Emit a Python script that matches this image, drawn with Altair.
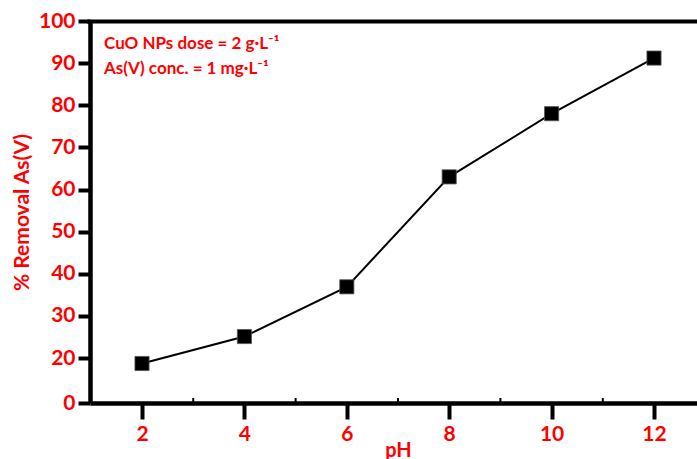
import altair as alt
import pandas as pd

ph = [2, 4, 6, 8, 10, 12]
removal = [18.7, 25.1, 36.9, 63.0, 78.0, 91.2]
minor_ph = [3, 5, 7, 9, 11]
y_ticks = [9.32, 20, 30, 40, 50, 60, 70, 80, 90, 100]
x_ticks = [2, 4, 6, 8, 10, 12]
notes = ["CuO NPs dose = 2 g\u2219L\u207b\u00b9", "As(V) conc. = 1 mg\u2219L\u207b\u00b9"]

df = pd.DataFrame({"pH": ph, "removal": removal})
minor_df = pd.DataFrame({"pH": minor_ph})

RED = "#FF0000"
FONT = "Lato"

xscale = alt.Scale(domain=[0.984, 12.84], nice=False, zero=False)
yscale = alt.Scale(domain=[9.32, 100], nice=False, zero=False)

xaxis = alt.Axis(
    values=x_ticks, title="pH", grid=False,
    domainColor="black", domainWidth=4.5,
    tickColor="black", tickWidth=4, tickSize=16,
    labelColor=RED, labelFont=FONT, labelFontSize=21, labelFontWeight="bold",
    labelPadding=4, labelFlush=False,
    titleColor=RED, titleFont=FONT, titleFontSize=20, titleFontWeight="bold",
    titleX=308, titleY=37, titleBaseline="top", titleAlign="center",
)
yaxis = alt.Axis(
    values=y_ticks, title="% Removal As(V)", grid=False,
    labelExpr="datum.value < 15 ? '0' : datum.label", format="d",
    domainColor="black", domainWidth=4.5,
    tickColor="black", tickWidth=4, tickSize=12,
    labelColor=RED, labelFont=FONT, labelFontSize=21, labelFontWeight="bold",
    labelPadding=3, labelFlush=False,
    titleColor=RED, titleFont=FONT, titleFontSize=21, titleFontWeight="bold",
    titleX=-68, titleY=191, titleAngle=270, titleAlign="center", titleBaseline="middle",
)

base = alt.Chart(df)
line = base.mark_line(color="black", strokeWidth=2).encode(
    x=alt.X("pH:Q", scale=xscale, axis=xaxis),
    y=alt.Y("removal:Q", scale=yscale, axis=yaxis),
)
points = base.mark_point(shape="square", filled=True, size=200, color="black",
                         stroke="#555555", strokeWidth=0.8, opacity=1).encode(
    x=alt.X("pH:Q", scale=xscale),
    y=alt.Y("removal:Q", scale=yscale),
)
minor = alt.Chart(minor_df).mark_rule(color="black", strokeWidth=2).encode(
    x=alt.X("pH:Q", scale=xscale),
    y=alt.value(377), y2=alt.value(382),
)
top = alt.Chart(pd.DataFrame({"a": [0]})).mark_rule(color="black", strokeWidth=4).encode(
    x=alt.value(-3), x2=alt.value(607), y=alt.value(0.5),
)
note_df = pd.DataFrame({"t": notes, "i": [0, 1]})
note1 = alt.Chart(note_df.iloc[[0]]).mark_text(
    align="left", baseline="alphabetic", font=FONT, fontSize=17, fontWeight="bold", color=RED
).encode(x=alt.value(14), y=alt.value(28), text="t:N")
note2 = alt.Chart(note_df.iloc[[1]]).mark_text(
    align="left", baseline="alphabetic", font=FONT, fontSize=17, fontWeight="bold", color=RED
).encode(x=alt.value(14), y=alt.value(53), text="t:N")

chart = alt.layer(line, points, minor, top, note1, note2).properties(
    width=607, height=382,
    autosize=alt.AutoSizeParams(type="none"),
    padding={"left": 90, "top": 21, "right": 0, "bottom": 56},
).configure_view(stroke=None).configure(background="white")

chart.save("out.html", embed_options={"renderer": "svg", "actions": False})
